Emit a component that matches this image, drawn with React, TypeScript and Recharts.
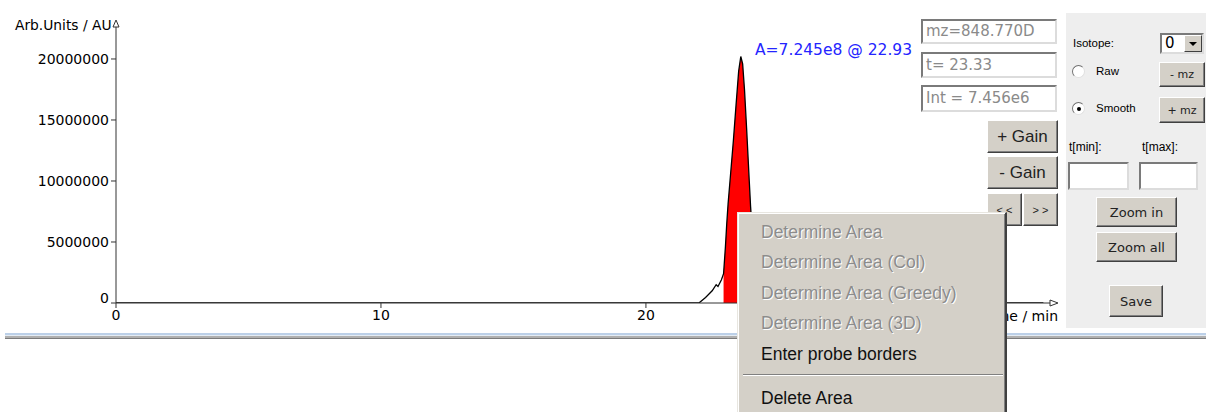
import React from 'react';
import { ComposedChart, Line, Area, XAxis, YAxis } from 'recharts';

// retention time (min) and smoothed intensity (AU) of the XIC trace
const times = [0, 22.0, 22.25, 22.5, 22.65, 22.72, 22.85, 22.93, 23.0, 23.05, 23.1, 23.2, 23.3, 23.4, 23.5, 23.58, 23.65, 23.72, 23.8, 23.9, 23.95, 24.05, 24.2, 24.43, 24.6, 24.8, 35];
const intensity = [0, 0, 450000, 1000000, 1500000, 1350000, 1900000, 2400000, 4600000, 6500000, 8100000, 10700000, 13300000, 16200000, 19000000, 20200000, 19600000, 17500000, 14300000, 10000000, 7900000, 4500000, 1800000, 500000, 100000, 0, 0];
const areaFrom = 22.93;
const areaTo = 24.43;
const xTicks = [0, 10, 20];
const yTicks = [0, 5000000, 10000000, 15000000, 20000000];

const menuItems = [
  { label: 'Determine Area', enabled: false },
  { label: 'Determine Area (Col)', enabled: false },
  { label: 'Determine Area (Greedy)', enabled: false },
  { label: 'Determine Area (3D)', enabled: false },
  { label: 'Enter probe borders', enabled: true },
];

const data = times.map((t, i) => ({
  t,
  v: intensity[i],
  area: t >= areaFrom && t <= areaTo ? intensity[i] : null,
}));

const SANS = '"DejaVu Sans", sans-serif';
const WIN = '"Liberation Sans", Arial, sans-serif';
const AXIS = '#333';

const tickStyle = { fontSize: 14, fill: '#000', fontFamily: SANS };

// the zero label sits a little above the origin in the original
const YTick = ({ x, y, payload }: any) => (
  <text
    x={x}
    y={payload.value === 0 ? y - 5 : y}
    dy="0.36em"
    textAnchor="end"
    fontSize={14}
    fontFamily={SANS}
    fill="#000"
  >
    {payload.value}
  </text>
);

const Btn = ({ left, top, w, h, label, size = 17, font = WIN }: any) => (
  <div
    style={{
      position: 'absolute', left, top, width: w, height: h, boxSizing: 'border-box',
      background: '#d4d0c8', border: '1px solid', borderColor: '#fff #404040 #404040 #fff',
      boxShadow: 'inset -1px -1px 0 #808080', display: 'flex', alignItems: 'center',
      justifyContent: 'center', fontFamily: font, fontSize: size, color: '#222', whiteSpace: 'nowrap',
    }}
  >
    {label}
  </div>
);

const Field = ({ left, top, w, h, text = '', color = '#8a8a8a' }: any) => (
  <div
    style={{
      position: 'absolute', left, top, width: w, height: h, boxSizing: 'border-box',
      background: '#fff', border: '2px solid', borderColor: '#7a7a7a #dcdcdc #dcdcdc #7a7a7a',
      fontFamily: SANS, fontSize: 15, color, paddingLeft: 3, lineHeight: `${h - 4}px`,
      whiteSpace: 'nowrap', overflow: 'hidden',
    }}
  >
    {text}
  </div>
);

const Radio = ({ cx, cy, checked, label }: any) => (
  <>
    <div
      style={{
        position: 'absolute', left: cx - 6, top: cy - 6, width: 13, height: 13, boxSizing: 'border-box',
        borderRadius: '50%', background: '#fff', border: '1px solid', borderColor: '#707070 #e0e0e0 #e0e0e0 #707070',
      }}
    >
      {checked && (
        <div style={{ position: 'absolute', left: 3.5, top: 3.5, width: 4, height: 4, borderRadius: '50%', background: '#000' }} />
      )}
    </div>
    <div style={{ position: 'absolute', left: cx + 18, top: cy - 7, fontFamily: WIN, fontSize: 11.5, lineHeight: '14px' }}>
      {label}
    </div>
  </>
);

export default function App() {
  return (
    <div
      style={{
        position: 'fixed', left: 0, top: 0, width: 1206, height: 412, background: '#fff',
        overflow: 'hidden',
      }}
    >
      <div style={{ position: 'absolute', left: 0, top: 0 }}>
        <ComposedChart width={1206} height={412} data={data} margin={{ top: 22, right: 156, bottom: 79, left: 16 }}>
          <XAxis
            dataKey="t"
            type="number"
            domain={[0, 35.25]}
            ticks={xTicks}
            allowDataOverflow
            height={30}
            tickSize={5}
            stroke={AXIS}
            tick={tickStyle}
          />
          <YAxis
            type="number"
            domain={[0, 23030000]}
            ticks={yTicks}
            allowDataOverflow
            width={100}
            tickSize={5}
            stroke={AXIS}
            tick={<YTick />}
          />
          <Area
            dataKey="area"
            type="linear"
            fill="#ff0000"
            fillOpacity={1}
            stroke="none"
            connectNulls={false}
            isAnimationActive={false}
          />
          <Line dataKey="v" type="linear" stroke="#000" strokeWidth={1.3} dot={false} isAnimationActive={false} />
        </ComposedChart>
      </div>

      {/* axis arrowheads */}
      <svg width={1206} height={412} style={{ position: 'absolute', left: 0, top: 0, pointerEvents: 'none' }}>
        <polygon points="116,20 113,27 119,27" fill="#fff" stroke={AXIS} strokeWidth={1} />
        <polygon points="1058,303 1050,300 1050,306" fill="#fff" stroke={AXIS} strokeWidth={1} />
      </svg>

      <div style={{ position: 'absolute', left: 15, top: 16, fontFamily: SANS, fontSize: 13.8, lineHeight: '18px', whiteSpace: 'nowrap' }}>
        Arb.Units / AU
      </div>
      <div style={{ position: 'absolute', right: 148, top: 307, fontFamily: SANS, fontSize: 14, lineHeight: '18px', whiteSpace: 'nowrap' }}>
        Time / min
      </div>
      {/* peak area annotation, its tail runs under the readout boxes */}
      <div style={{ position: 'absolute', left: 755, top: 41, width: 165, height: 20, overflow: 'hidden' }}>
        <div style={{ fontFamily: SANS, fontSize: 15.5, lineHeight: '18px', color: '#2424ff', whiteSpace: 'nowrap' }}>
          A=7.245e8 @ 22.93
        </div>
      </div>

      <Field left={921} top={19} w={136} h={25} text="mz=848.770D" />
      <Field left={921} top={52} w={136} h={26} text="t= 23.33" />
      <Field left={921} top={85} w={136} h={27} text="Int = 7.456e6" />

      <Btn left={987} top={120} w={71} h={33} label="+ Gain" />
      <Btn left={987} top={156} w={71} h={33} label="- Gain" />
      <Btn left={987} top={193} w={35} h={33} label="< <" size={11} />
      <Btn left={1023} top={193} w={35} h={33} label="> >" size={11} />

      {/* right control panel */}
      <div style={{ position: 'absolute', left: 1066, top: 13, width: 140, height: 315, background: '#eeeeee' }} />
      <div style={{ position: 'absolute', left: 1073, top: 36, fontFamily: WIN, fontSize: 11.5, lineHeight: '14px' }}>Isotope:</div>
      <Field left={1160} top={33} w={44} h={21} text="0" color="#000" />
      <div
        style={{
          position: 'absolute', left: 1184, top: 35, width: 18, height: 17, boxSizing: 'border-box',
          background: '#d4d0c8', border: '1px solid', borderColor: '#fff #404040 #404040 #fff',
          display: 'flex', alignItems: 'center', justifyContent: 'center',
        }}
      >
        <div style={{ width: 0, height: 0, borderLeft: '4px solid transparent', borderRight: '4px solid transparent', borderTop: '4px solid #000' }} />
      </div>
      <Radio cx={1078} cy={71} checked={false} label="Raw" />
      <Btn left={1159} top={62} w={46} h={25} label="- mz" size={11} font={SANS} />
      <Radio cx={1078} cy={108} checked label="Smooth" />
      <Btn left={1159} top={97} w={46} h={26} label="+ mz" size={11} font={SANS} />
      <div style={{ position: 'absolute', left: 1069, top: 140, fontFamily: WIN, fontSize: 12, lineHeight: '14px' }}>t[min]:</div>
      <div style={{ position: 'absolute', left: 1142, top: 140, fontFamily: WIN, fontSize: 12, lineHeight: '14px' }}>t[max]:</div>
      <Field left={1068} top={162} w={61} h={28} />
      <Field left={1139} top={162} w={59} h={28} />
      <Btn left={1096} top={197} w={81} h={30} label="Zoom in" size={13} font={SANS} />
      <Btn left={1096} top={232} w={81} h={30} label="Zoom all" size={13} font={SANS} />
      <Btn left={1109} top={285} w={54} h={32} label="Save" size={13} font={SANS} />

      {/* split pane divider */}
      <div style={{ position: 'absolute', left: 5, top: 333, width: 1201, height: 2, background: '#bcd0e8' }} />
      <div style={{ position: 'absolute', left: 5, top: 335, width: 1201, height: 1, background: '#e4ecf4' }} />
      <div style={{ position: 'absolute', left: 5, top: 336, width: 1201, height: 2, background: '#b0b0b0' }} />
      <div style={{ position: 'absolute', left: 5, top: 338, width: 1201, height: 1, background: '#7c7c7c' }} />

      {/* context menu */}
      <div
        style={{
          position: 'absolute', left: 737, top: 212, width: 270, height: 220, boxSizing: 'border-box',
          background: '#d4d0c8', borderTop: '1px solid #e8e6e0', borderLeft: '1px solid #e8e6e0',
          borderRight: '2px solid #404040', boxShadow: 'inset 1px 1px 0 #fff, inset -1px 0 0 #808080',
        }}
      >
        {menuItems.map((m, i) => (
          <div
            key={m.label}
            style={{
              position: 'absolute', left: 23, top: 8 + i * 30.4, fontFamily: WIN, fontSize: 17.5,
              lineHeight: '22px', whiteSpace: 'nowrap', color: m.enabled ? '#111' : '#8c8c8c',
              textShadow: m.enabled ? 'none' : '1px 1px 0 #fff',
            }}
          >
            {m.label}
          </div>
        ))}
        <div style={{ position: 'absolute', left: 5, top: 161, width: 260, height: 1, background: '#808080' }} />
        <div style={{ position: 'absolute', left: 5, top: 162, width: 260, height: 1, background: '#fff' }} />
        <div
          style={{
            position: 'absolute', left: 23, top: 174, fontFamily: WIN, fontSize: 17.5, lineHeight: '22px',
            whiteSpace: 'nowrap', color: '#111',
          }}
        >
          Delete Area
        </div>
      </div>
    </div>
  );
}
